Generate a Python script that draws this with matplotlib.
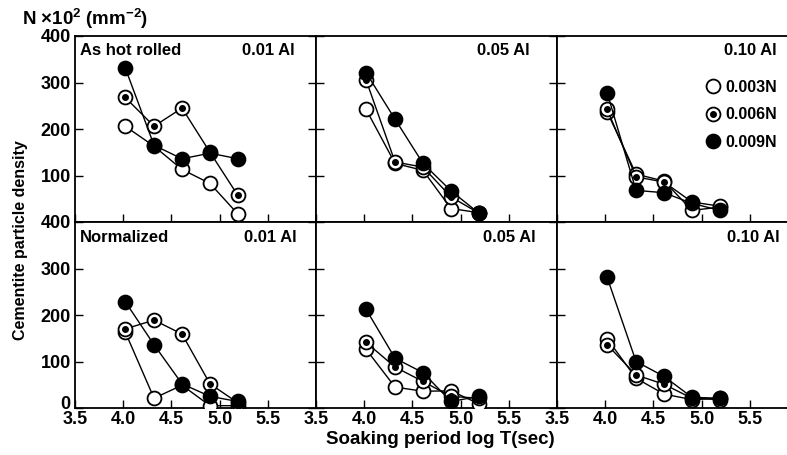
import matplotlib
matplotlib.use("Agg")
import matplotlib.pyplot as plt
from matplotlib.lines import Line2D
from matplotlib.transforms import offset_copy

plt.rcParams['font.family'] = ['Liberation Sans', 'DejaVu Sans']
plt.rcParams['font.weight'] = 'bold'
plt.rcParams['mathtext.fontset'] = 'custom'
plt.rcParams['mathtext.bf'] = 'Liberation Sans:bold'
plt.rcParams['mathtext.rm'] = 'Liberation Sans:bold'
plt.rcParams['mathtext.default'] = 'bf'

log_t = [4.02, 4.32, 4.61, 4.90, 5.19]
series_labels = ['0.003N', '0.006N', '0.009N']
panel_al = ['0.01 Al', '0.05 Al', '0.10 Al']
row_labels = ['As hot rolled', 'Normalized']

# As hot rolled
hot_001_n003 = [206, 163, 113, 83, 17]
hot_001_n006 = [268, 206, 245, 150, 57]
hot_001_n009 = [332, 165, 136, 148, 136]
hot_005_n003 = [242, 126, 111, 29, 20]
hot_005_n006 = [305, 129, 118, 54, 19]
hot_005_n009 = [321, 221, 126, 67, 19]
hot_010_n003 = [237, 103, 88, 25, 32]
hot_010_n006 = [242, 97, 86, 43, 34]
hot_010_n009 = [278, 68, 63, 40, 25]
# Normalized
nor_001_n003 = [164, 21, 49, 5, 5]
nor_001_n006 = [170, 189, 159, 52, 11]
nor_001_n009 = [229, 136, 52, 25, 14]
nor_005_n003 = [126, 45, 36, 37, 9]
nor_005_n006 = [141, 88, 57, 25, 21]
nor_005_n009 = [212, 107, 76, 14, 25]
nor_010_n003 = [149, 64, 30, 18, 21]
nor_010_n006 = [136, 71, 51, 21, 18]
nor_010_n009 = [281, 100, 68, 23, 21]

data = [
    [(hot_001_n003, hot_001_n006, hot_001_n009),
     (hot_005_n003, hot_005_n006, hot_005_n009),
     (hot_010_n003, hot_010_n006, hot_010_n009)],
    [(nor_001_n003, nor_001_n006, nor_001_n009),
     (nor_005_n003, nor_005_n006, nor_005_n009),
     (nor_010_n003, nor_010_n006, nor_010_n009)],
]

W, H = 787, 455
fig = plt.figure(figsize=(W / 100, H / 100), dpi=100)

lefts = [75, 316, 557]
pw = 241
rows = [(36, 222), (222, 408)]
al_x = [[0.913, 0.888, 0.913], [0.92, 0.913, 0.925]]

ms = 10
tick_fs = 13
zero_ax = None
for r in range(2):
    top, bot = rows[r]
    for c in range(3):
        ax = fig.add_axes([lefts[c] / W, 1 - bot / H, pw / W, (bot - top) / H])
        ax.set_xlim(3.5, 6.0)
        ax.set_ylim(0, 400)
        n3, n6, n9 = data[r][c]
        ax.plot(log_t, n3, '-o', color='black', lw=1.0, ms=ms, mfc='white',
                mec='black', mew=1.3, zorder=3)
        ax.plot(log_t, n6, '-o', color='black', lw=1.0, ms=ms, mfc='white',
                mec='black', mew=1.3, zorder=4)
        ax.plot(log_t, n6, 'o', color='black', ms=4, zorder=4.5)
        ax.plot(log_t, n9, '-o', color='black', lw=1.0, ms=ms, mfc='black',
                mec='black', mew=1.3, zorder=5)
        for s in ax.spines.values():
            s.set_linewidth(1.3)
        ax.tick_params(direction='in', length=6, width=1.0, labelsize=tick_fs,
                       left=True, right=True, top=False, bottom=True)
        ax.set_xticks([3.5, 4.0, 4.5, 5.0, 5.5])
        if r == 0:
            ax.set_yticks([100, 200, 300, 400])
            ax.tick_params(labelbottom=False)
        else:
            ax.set_yticks([0, 100, 200, 300, 400])
            ax.set_xticklabels(['3.5', '4.0', '4.5', '5.0', '5.5'])
            ax.tick_params(axis='x', pad=2.5)
        if c != 0:
            ax.tick_params(labelleft=False)
        else:
            ax.tick_params(axis='y', pad=3)
            if r == 1:
                zero_ax = ax
        for lab in ax.get_xticklabels() + ax.get_yticklabels():
            lab.set_fontweight('bold')
        ax.text(al_x[r][c], 0.965 if r == 0 else 0.955, panel_al[c],
                transform=ax.transAxes, ha='right', va='top',
                fontsize=12, fontweight='bold')
        if c == 0:
            ax.text(0.022, 0.965 if r == 0 else 0.955, row_labels[r],
                    transform=ax.transAxes, ha='left', va='top',
                    fontsize=12, fontweight='bold')
        if r == 0 and c == 2:
            h3 = Line2D([], [], ls='none', marker='o', ms=ms, mfc='white',
                        mec='black', mew=1.3)
            h6a = Line2D([], [], ls='none', marker='o', ms=ms, mfc='white',
                         mec='black', mew=1.3)
            h6b = Line2D([], [], ls='none', marker='o', ms=4, color='black')
            h9 = Line2D([], [], ls='none', marker='o', ms=ms, mfc='black',
                        mec='black', mew=1.3)
            leg = ax.legend([h3, (h6a, h6b), h9], series_labels,
                            loc='upper left', bbox_to_anchor=(0.62, 0.763),
                            frameon=False, handlelength=0.8,
                            handletextpad=0.4, labelspacing=0.77,
                            borderpad=0, borderaxespad=0,
                            prop={'weight': 'bold', 'size': 11.5})

# lift the "0" label slightly, as in the original
zlab = zero_ax.get_yticklabels()[0]
zlab.set_transform(offset_copy(zlab.get_transform(), fig=fig, x=0, y=4,
                               units='points'))

fig.text(22 / W, 1 - 25 / H, r'N $\times$10$^{2}$ (mm$^{-2}$)', fontsize=13.5,
         fontweight='bold', ha='left', va='baseline')
fig.text(21 / W, 1 - 240 / H, 'Cementite particle density', rotation=90,
         fontsize=11.5, fontweight='bold', ha='center', va='center')
fig.text(440 / W, 1 - 439 / H, 'Soaking period log T(sec)', fontsize=13.5,
         fontweight='bold', ha='center', va='center')

fig.savefig('out.png', dpi=100)
